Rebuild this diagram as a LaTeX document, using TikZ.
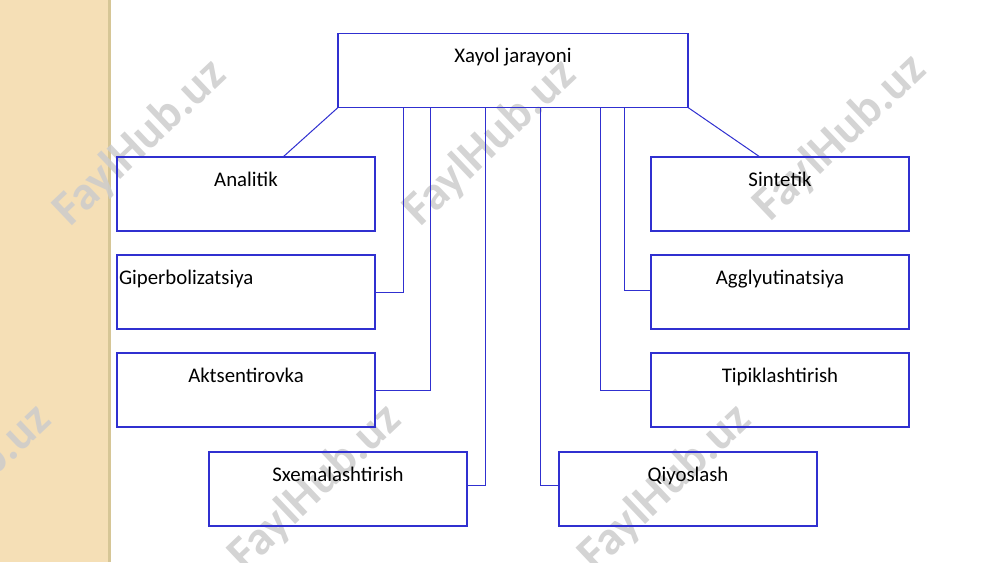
\documentclass[tikz,border=0pt]{standalone}
\usepackage{fontspec}
\setmainfont{Carlito}
\definecolor{lineblue}{RGB}{48,48,208}
\definecolor{stripbeige}{RGB}{245,223,182}
\definecolor{stripedge}{RGB}{214,198,150}
\begin{document}
\begin{tikzpicture}[x=0.5pt,y=-0.5pt,inner sep=0pt,outer sep=0pt,
catbox/.style={draw=lineblue,rectangle,line width=0.75pt,minimum width=129pt,
  text height=14.5pt,text depth=22.5pt,font=\fontsize{10.4}{12.5}\selectfont},
link/.style={draw=lineblue,line width=0.5pt},
wmark/.style={rotate=43.5,text=black!20,text opacity=0.85,
  font=\fontsize{24}{28}\selectfont\bfseries}]
\useasboundingbox (0,0) rectangle (1000,562);
\fill[stripbeige] (0,0) rectangle (108,562);
\draw[stripedge,line width=1.5pt] (109.5,0) -- (109.5,562);

% watermarks
\foreach \wx/\wy [count=\i] in {140/143,490/143,840/138,-35/488,315/488,665/488}
  \draw (\wx,\wy) node[wmark] (wm\i) {FaylHub.uz};

\draw (513,70.5) node[catbox,minimum width=175pt] (top) {Xayol jarayoni};
\draw (246,194) node[catbox] (ana) {Analitik};
\draw (246,292) node[catbox,inner xsep=1pt,text width=127pt,align=left] (gip) {Giperbolizatsiya};
\draw (246,390) node[catbox] (akt) {Aktsentirovka};
\draw (338,489) node[catbox] (sxe) {Sxemalashtirish};
\draw (780,194) node[catbox] (sin) {Sintetik};
\draw (780,292) node[catbox] (agg) {Agglyutinatsiya};
\draw (780,390) node[catbox] (tip) {Tipiklashtirish};
\draw (688,489) node[catbox] (qiy) {Qiyoslash};

\draw[link] (top.south west) -- ([xshift=18.5pt]ana.north);
\draw[link] (top.south east) -- ([xshift=-10pt]sin.north);
\draw[link] ([xshift=-55pt]top.south) |- (gip.east);
\draw[link] ([xshift=-41.5pt]top.south) |- (akt.east);
\draw[link] ([xshift=-14pt]top.south) |- ([yshift=2pt]sxe.east);
\draw[link] ([xshift=13.5pt]top.south) |- ([yshift=2pt]qiy.west);
\draw[link] ([xshift=43.5pt]top.south) |- (tip.west);
\draw[link] ([xshift=55.5pt]top.south) |- ([yshift=1pt]agg.west);
\end{tikzpicture}
\end{document}
